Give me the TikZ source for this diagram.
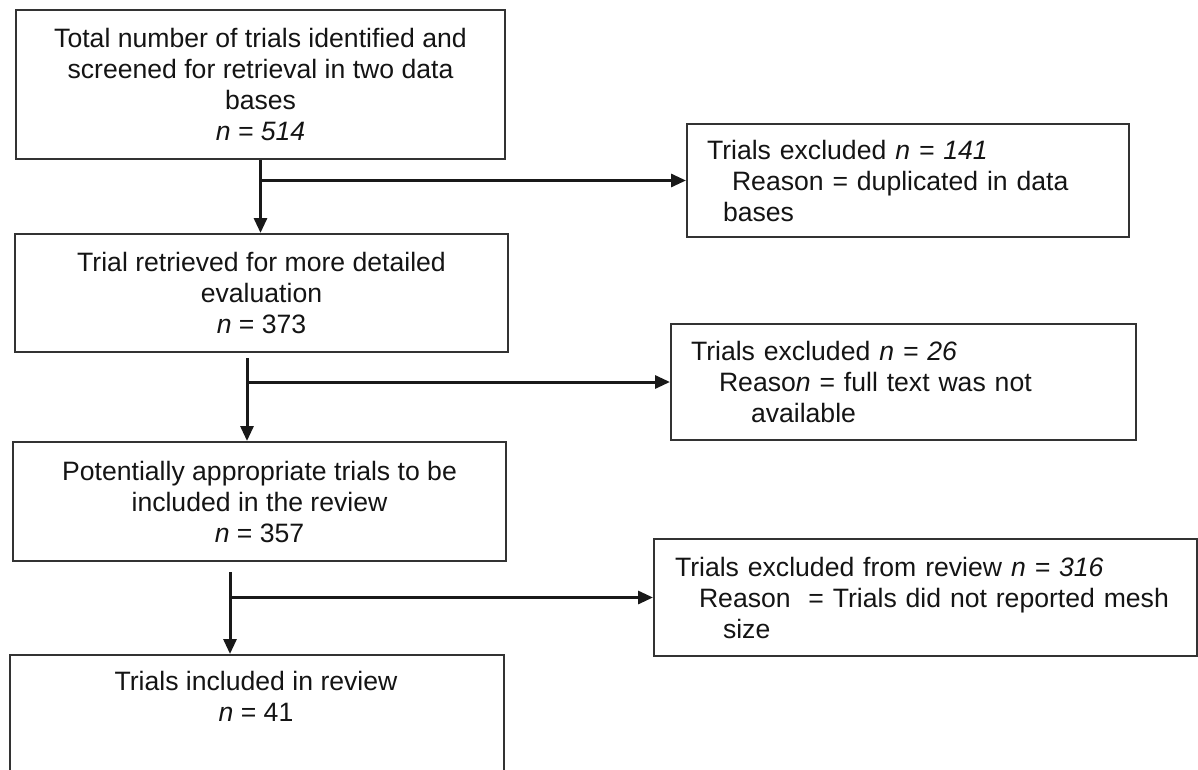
\documentclass[tikz,border=0pt]{standalone}
\usepackage{fontspec}
\setmainfont{Liberation Sans}
\usetikzlibrary{arrows.meta}
\tikzset{
  box/.style={draw=black!80, line width=2pt, inner sep=0pt, anchor=north west,
    font=\fontsize{26.6}{31}\selectfont, text=black!92},
  cbox/.style={box, align=center},
  rbox/.style={box, align=left, inner xsep=20pt},
  txt/.style={align=center, inner sep=0pt, font=\fontsize{26.6}{31}\selectfont, text=black!92},
  arr/.style={line width=3pt, draw=black!90, -{Triangle[length=15pt,width=13pt]}},
}
\begin{document}
\begin{tikzpicture}[x=1pt,y=-1pt]
\useasboundingbox (0,0) rectangle (1198,770);
\clip (0,0) rectangle (1198,770);
% left column
\node[cbox, minimum width=489pt, minimum height=149pt] (b1) at (15,9)
  {Total number of trials identified and\\screened for retrieval in two data\\bases\\\textit{n = 514}};
\node[cbox, minimum width=493pt, minimum height=118pt] (b3) at (14,233)
  {Trial retrieved for more detailed\\evaluation\\\textit{n} = 373};
\node[cbox, minimum width=493pt, minimum height=119pt] (b5) at (12,441)
  {Potentially appropriate trials to be\\included in the review\\\textit{n} = 357};
\node[box, minimum width=494pt, minimum height=160pt] (b7) at (9,654) {};
\node[txt] (t7) at (256,696) {Trials included in review\\\textit{n} = 41};
% right column
\node[rbox, minimum width=442pt, minimum height=113pt, text width=402pt] (b2) at (686,123)
  {Trials excluded \textit{n = 141}\\\hspace*{25pt}Reason = duplicated in data\\\hspace*{16pt}bases};
\node[rbox, minimum width=465pt, minimum height=116pt, text width=425pt] (b4) at (670,323)
  {Trials excluded \textit{n = 26}\\\hspace*{28pt}Reaso\textit{n} = full text was not\\\hspace*{60pt}available};
\node[rbox, minimum width=543pt, minimum height=117pt, text width=501pt, inner xsep=21pt] (b6) at (653,538)
  {Trials excluded from review \textit{n = 316}\\\hspace*{24pt}Reason\ \ = Trials did not reported mesh\\\hspace*{48pt}size};
% connectors
\draw[arr] (b1.south) -- (b1.south |- b3.north);
\draw[arr] (b1.south |- b2.west) -- (b2.west);
\coordinate (c2) at (247,358);
\draw[arr] (c2) -- (c2 |- b5.north);
\draw[arr] (c2 |- b4.west) -- (b4.west);
\coordinate (c3) at (230,572);
\draw[arr] (c3) -- (c3 |- b7.north);
\draw[arr] (c3 |- b6.west) -- (b6.west);
\end{tikzpicture}
\end{document}
